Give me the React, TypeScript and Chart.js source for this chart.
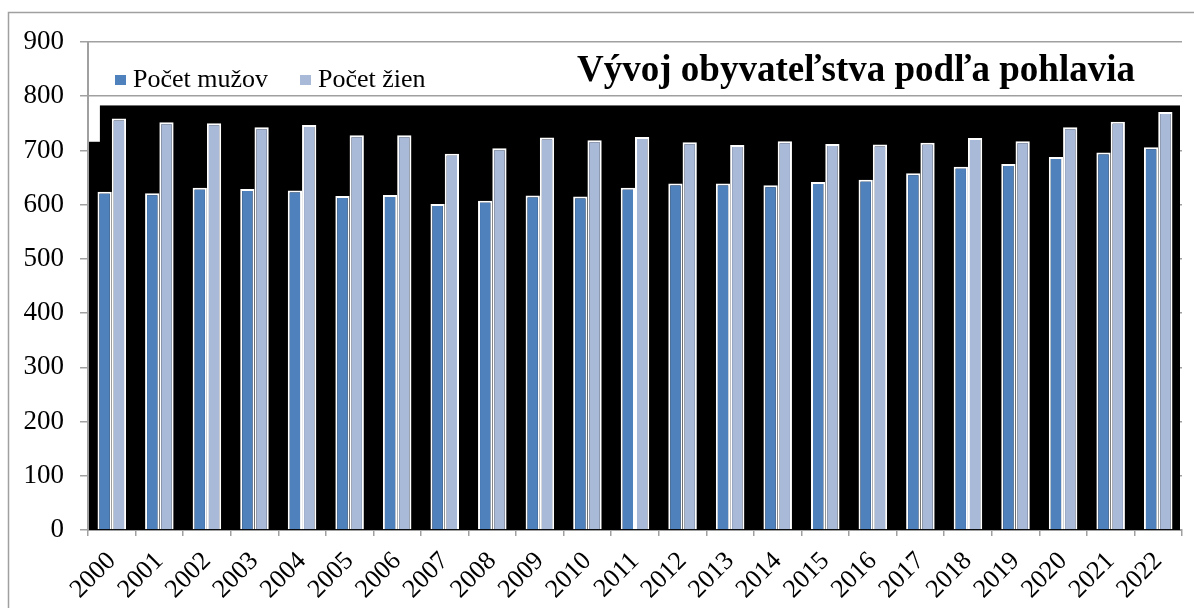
import React, { useEffect, useRef } from 'react';
import { Chart, registerables } from 'chart.js';

Chart.register(...registerables);

const YEARS = ['2000', '2001', '2002', '2003', '2004', '2005', '2006', '2007', '2008', '2009', '2010', '2011', '2012', '2013', '2014', '2015', '2016', '2017', '2018', '2019', '2020', '2021', '2022'];
const MALES = [624, 621, 631, 629, 626, 616, 618, 601, 607, 617, 615, 631, 639, 639, 636, 642, 646, 658, 670, 675, 688, 696, 706];
const FEMALES = [759, 752, 750, 743, 747, 728, 728, 694, 704, 724, 719, 725, 715, 710, 717, 712, 711, 714, 723, 717, 743, 753, 771];
const SERIES_NAMES = ['Počet mužov', 'Počet žien'];
const TITLE = 'Vývoj obyvateľstva podľa pohlavia';
const Y_MIN = 0;
const Y_MAX = 900;
const Y_STEP = 100;
const BG_TOP_VALUE = 783;
const BG_NOTCH_VALUE = 716;

const BLUE = '#4F81BD';
const LIGHT = '#A9B9D8';
const GRID = '#a0a0a0';
const SERIF = '"Liberation Serif", "Times New Roman", serif';

export default function App() {
  const ref = useRef<HTMLCanvasElement>(null);

  useEffect(() => {
    if (!ref.current) return;

    const bgPlugin = {
      id: 'blackBg',
      beforeDatasetsDraw(chart: any) {
        const { ctx, chartArea: a, scales } = chart;
        const x = scales.x;
        const y = scales.y;
        const yTop = y.getPixelForValue(BG_TOP_VALUE);
        const yNotch = y.getPixelForValue(BG_NOTCH_VALUE);
        const xNotch = x.getPixelForValue(-0.25);
        ctx.save();
        ctx.fillStyle = '#000';
        ctx.fillRect(xNotch, yTop, a.right - 2 - xNotch, a.bottom - yTop);
        ctx.fillRect(a.left + 1, yNotch, xNotch - a.left, a.bottom - yNotch);
        ctx.restore();
      },
    };

    const decorPlugin = {
      id: 'decor',
      afterDraw(chart: any) {
        const { ctx, width, height } = chart;
        ctx.save();
        // outer frame
        ctx.strokeStyle = GRID;
        ctx.lineWidth = 1.5;
        ctx.strokeRect(8.5, 12.5, width, height);
        // legend
        ctx.font = `26px ${SERIF}`;
        ctx.textBaseline = 'middle';
        ctx.textAlign = 'left';
        const items = [
          { x: 115, color: BLUE, text: SERIES_NAMES[0] },
          { x: 300, color: LIGHT, text: SERIES_NAMES[1] },
        ];
        for (const it of items) {
          ctx.fillStyle = it.color;
          ctx.fillRect(it.x, 75, 11, 10);
          ctx.fillStyle = '#000';
          ctx.fillText(it.text, it.x + 18, 80);
        }
        // title
        ctx.font = `bold 37px ${SERIF}`;
        ctx.textAlign = 'center';
        ctx.fillText(TITLE, 856, 71);
        ctx.restore();
      },
    };

    const chart = new Chart(ref.current, {
      type: 'bar',
      data: {
        labels: YEARS,
        datasets: [
          {
            label: SERIES_NAMES[0],
            data: MALES,
            backgroundColor: BLUE,
            borderColor: '#ffffff',
            borderWidth: 2,
            barPercentage: 1,
            categoryPercentage: 0.6,
          },
          {
            label: SERIES_NAMES[1],
            data: FEMALES,
            backgroundColor: LIGHT,
            borderColor: '#ffffff',
            borderWidth: 2,
            barPercentage: 1,
            categoryPercentage: 0.6,
          },
        ],
      },
      options: {
        responsive: false,
        animation: false,
        layout: { padding: { top: 42, right: 12, left: 0, bottom: 0 } },
        plugins: {
          legend: { display: false },
          title: { display: false },
          tooltip: { enabled: false },
        },
        scales: {
          x: {
            offset: true,
            grid: {
              offset: true,
              drawOnChartArea: false,
              color: GRID,
              tickLength: 6,
              lineWidth: 1.5,
            },
            border: { color: GRID, width: 2 },
            ticks: {
              color: '#000',
              font: { family: SERIF, size: 26 },
              minRotation: 45,
              maxRotation: 45,
              autoSkip: false,
              padding: 10,
            },
            afterFit(scale: any) {
              scale.height = 78;
            },
          },
          y: {
            min: Y_MIN,
            max: Y_MAX,
            ticks: {
              stepSize: Y_STEP,
              color: '#000',
              font: { family: SERIF, size: 27 },
              padding: 16,
            },
            grid: {
              color: GRID,
              lineWidth: 1.5,
              tickLength: 8,
            },
            border: { color: GRID, width: 2 },
            afterFit(scale: any) {
              scale.width = 88;
            },
          },
        },
      },
      plugins: [bgPlugin, decorPlugin],
    });

    return () => chart.destroy();
  }, []);

  return (
    <div style={{ position: 'absolute', left: 0, top: 0, width: 1194, height: 608, background: '#fff' }}>
      <canvas ref={ref} width={1194} height={608} style={{ width: 1194, height: 608, display: 'block' }} />
    </div>
  );
}
